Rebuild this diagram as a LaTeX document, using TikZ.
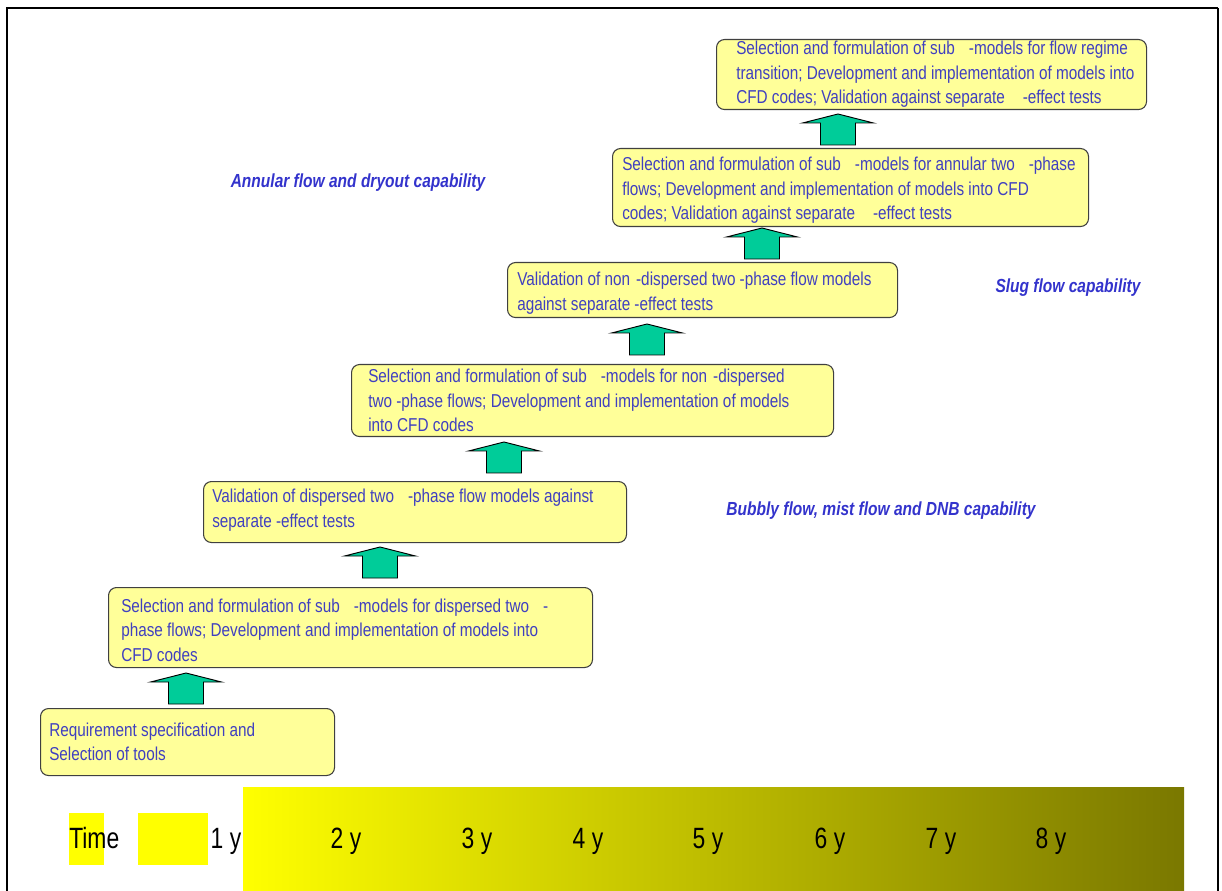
\documentclass[tikz,border=0pt]{standalone}
\usepackage{fontspec}
\setmainfont{Liberation Sans}
\newfontfamily\narrowfont[FakeStretch=0.82]{Liberation Sans}
\newfontfamily\yearfont[FakeStretch=0.78]{Liberation Sans}
\definecolor{boxyellow}{RGB}{255,255,153}
\definecolor{boxblue}{RGB}{64,64,192}
\definecolor{labelblue}{RGB}{51,51,204}
\definecolor{arrowgreen}{RGB}{0,204,153}
\definecolor{brightyellow}{RGB}{255,255,0}
\definecolor{olivedark}{RGB}{122,120,0}
% horizontal gap of #1 pixel units (0.75pt each)
\newcommand\gp[1]{\hspace{\dimexpr 0.75pt*#1\relax}}
% upward block arrow: #1 = centre x, #2 = bottom y
\newcommand\upblock[2]{%
  \draw[upblock] (#1-17.5,#2) -- (#1-17.5,#2-22) -- (#1-35.5,#2-22) -- (#1,#2-31)
    -- (#1+35.5,#2-22) -- (#1+17.5,#2-22) -- (#1+17.5,#2) -- cycle;}
\begin{document}
\begin{tikzpicture}[x=0.75pt,y=-0.75pt,
  stage/.style={draw=black!75, line width=0.8pt, fill=boxyellow, rounded corners=6pt,
    inner sep=0pt, anchor=north west},
  stagetext/.style={anchor=west, align=left, inner sep=0pt, text=boxblue,
    font=\narrowfont\fontsize{14}{18.4}\selectfont},
  upblock/.style={draw=black, line width=0.7pt, fill=arrowgreen},
  phase/.style={inner sep=0pt, text=labelblue, font=\narrowfont\bfseries\itshape\fontsize{14.2}{17}\selectfont},
  year/.style={inner sep=0pt, text=black, anchor=base, font=\yearfont\fontsize{22}{22}\selectfont},
]
\useasboundingbox (0,0) rectangle (1222,891);

% frame
\draw[line width=1.6pt] (7,891) -- (7,8) -- (1218,8);
\draw[line width=2.2pt] (1218,8) -- (1218,891);

% time bar
\shade[left color=brightyellow, right color=olivedark] (243,787) rectangle (1184,891);
\fill[brightyellow] (69,813) rectangle (104,865);
\fill[brightyellow] (138,813) rectangle (208,865);
\node[year, anchor=base west] (time) at (69,848) {Time};
\node[year] (y1) at (226,848) {1 y};
\node[year] (y2) at (346,848) {2 y};
\node[year] (y3) at (477,848) {3 y};
\node[year] (y4) at (588,848) {4 y};
\node[year] (y5) at (708,848) {5 y};
\node[year] (y6) at (830,848) {6 y};
\node[year] (y7) at (941,848) {7 y};
\node[year] (y8) at (1051,848) {8 y};

% stage boxes
\node[stage, minimum width=294*0.75pt, minimum height=67*0.75pt] (b1) at (40,708) {};
\node[stagetext] (t1) at ([xshift=9*0.75pt]b1.west) {Requirement specification and\\Selection of tools};

\node[stage, minimum width=484*0.75pt, minimum height=80*0.75pt] (b2) at (108,587) {};
\node[stagetext] (t2) at ([xshift=13*0.75pt,yshift=-2.5*0.75pt]b2.west) {Selection and formulation of sub\gp{14}-models for dispersed two\gp{14}-\\phase flows; Development and implementation of models into\\CFD codes};

\node[stage, minimum width=423*0.75pt, minimum height=61*0.75pt] (b3) at (203,481) {};
\node[stagetext] (t3) at ([xshift=9*0.75pt,yshift=2*0.75pt]b3.west) {Validation of dispersed two\gp{14}-phase flow models against\\separate -effect tests};

\node[stage, minimum width=482*0.75pt, minimum height=72*0.75pt] (b4) at (351,364) {};
\node[stagetext] (t4) at ([xshift=17*0.75pt]b4.west) {Selection and formulation of sub\gp{14}-models for non\gp{6}-dispersed\\two -phase flows; Development and implementation of models\\into CFD codes};

\node[stage, minimum width=390*0.75pt, minimum height=55*0.75pt] (b5) at (507,262) {};
\node[stagetext] (t5) at ([xshift=10*0.75pt,yshift=-3*0.75pt]b5.west) {Validation of non\gp{6}-dispersed two\gp{4}-phase flow models\\against separate\gp{4}-effect tests};

\node[stage, minimum width=476*0.75pt, minimum height=78*0.75pt] (b6) at (612,148) {};
\node[stagetext] (t6) at ([xshift=10*0.75pt,yshift=-3*0.75pt]b6.west) {Selection and formulation of sub\gp{14}-models for annular two\gp{14}-phase\\flows; Development and implementation of models into CFD\\codes; Validation against separate\gp{18}-effect tests};

\node[stage, minimum width=430*0.75pt, minimum height=70*0.75pt] (b7) at (716,39) {};
\node[stagetext] (t7) at ([xshift=20*0.75pt]b7.west) {Selection and formulation of sub\gp{14}-models for flow regime\\transition; Development and implementation of models into\\CFD codes; Validation against separate\gp{18}-effect tests};

% progression arrows between consecutive stages
\upblock{186}{704}
\upblock{380}{578}
\upblock{504}{473}
\upblock{647}{355}
\upblock{762}{259}
\upblock{838}{145}

% capability labels
\node[phase] (annular) at (358,183) {Annular flow and dryout capability};
\node[phase] (slug) at (1068,288) {Slug flow capability};
\node[phase] (bubbly) at (881,511) {Bubbly flow, mist flow and DNB capability};
\end{tikzpicture}
\end{document}
